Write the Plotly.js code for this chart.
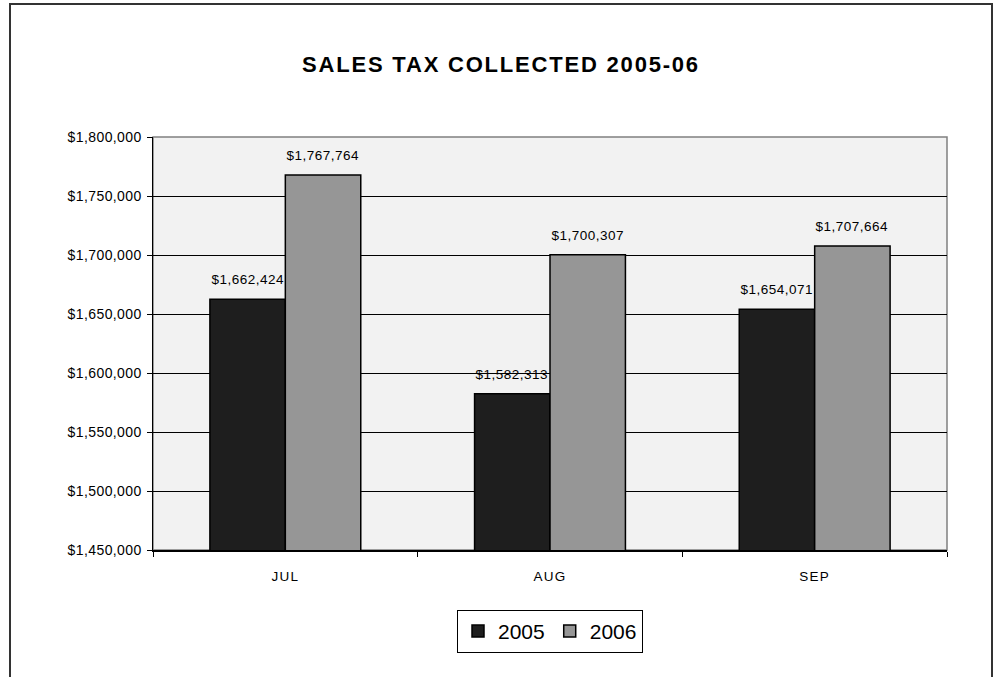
<!DOCTYPE html>
<html>
<head>
<meta charset="utf-8">
<script src="https://cdn.plot.ly/plotly-3.0.1.min.js"></script>
<style>
  html, body { margin: 0; padding: 0; background: #ffffff; overflow: hidden; }
  #wrap { position: relative; width: 995px; height: 677px; }
  #frame { position: absolute; left: 9px; top: 3px; width: 984px; height: 700px; border: 2px solid #333; box-sizing: border-box; pointer-events: none; }
  #chart { position: absolute; left: 0; top: 0; width: 995px; height: 677px; }
  #chart .gtitle { letter-spacing: 1.8px; }
  #chart .xtick text { letter-spacing: 1.2px; }
  #chart .ytick text { letter-spacing: 0.4px; }
  #chart .annotation-text { letter-spacing: 0.5px; }
</style>
</head>
<body>
<div id="wrap">
  <div id="chart"></div>
  <div id="frame"></div>
</div>
<script>
const categories = ["JUL", "AUG", "SEP"];
const sales2005 = [1662424, 1582313, 1654071];
const sales2006 = [1767764, 1700307, 1707664];
const seriesNames = ["2005", "2006"];
const yTickVals = [1450000, 1500000, 1550000, 1600000, 1650000, 1700000, 1750000, 1800000];
const yTickText = ["$1,450,000", "$1,500,000", "$1,550,000", "$1,600,000", "$1,650,000", "$1,700,000", "$1,750,000", "$1,800,000"];

const fmt = v => "$" + v.toLocaleString("en-US");
const FONT = "Liberation Sans, Arial, sans-serif";

const W = 995, H = 677;
const M = { l: 153, r: 48, t: 137, b: 127 };
const bargap = 0.43;
const catWidthPx = (W - M.l - M.r) / categories.length;
const barWidthPx = catWidthPx * (1 - bargap) / 2;

const traces = [
  {
    type: "bar", name: seriesNames[0], x: categories, y: sales2005,
    marker: { color: "#1e1e1e", line: { color: "#000", width: 1.5 } },
    hoverinfo: "skip"
  },
  {
    type: "bar", name: seriesNames[1], x: categories, y: sales2006,
    marker: { color: "#969696", line: { color: "#000", width: 1.5 } },
    hoverinfo: "skip"
  }
];

const annotations = [];
[sales2005, sales2006].forEach((series, si) => {
  series.forEach((v, i) => {
    annotations.push({
      x: categories[i], y: v, xref: "x", yref: "y",
      xshift: (si === 0 ? -1 : 1) * barWidthPx / 2,
      yshift: 10, yanchor: "bottom", xanchor: "center",
      text: fmt(v), showarrow: false,
      font: { family: FONT, size: 13.5, color: "#000" }
    });
  });
});

const layout = {
  width: W, height: H,
  margin: M,
  paper_bgcolor: "rgba(0,0,0,0)",
  plot_bgcolor: "#f2f2f2",
  font: { family: FONT, color: "#000" },
  title: {
    text: "<b>SALES TAX COLLECTED 2005-06</b>",
    font: { size: 22, family: FONT, color: "#000" },
    x: 501 / W, xref: "container", xanchor: "center",
    y: 1 - 64 / H, yref: "container", yanchor: "middle"
  },
  barmode: "group",
  bargap: bargap,
  bargroupgap: 0,
  xaxis: {
    type: "category",
    showline: true, linecolor: "#000", linewidth: 1.5,
    ticks: "outside", ticklen: 5, tickcolor: "#000", tickson: "boundaries",
    showgrid: false,
    tickfont: { size: 13.5 },
    ticklabelstandoff: 13
  },
  yaxis: {
    range: [1450000, 1800000],
    tickvals: yTickVals, ticktext: yTickText,
    showline: true, linecolor: "#000", linewidth: 1.5,
    ticks: "outside", ticklen: 5, tickcolor: "#000",
    showgrid: true, gridcolor: "#000", gridwidth: 1,
    zeroline: false,
    tickfont: { size: 14 },
    ticklabelstandoff: 2
  },
  shapes: [
    { type: "rect", xref: "paper", yref: "paper", x0: 0, x1: 1, y0: 0, y1: 1,
      line: { color: "#808080", width: 1.5 }, layer: "below" }
  ],
  annotations: annotations,
  showlegend: true,
  legend: {
    orientation: "h",
    x: 0.5, xanchor: "center",
    y: -0.145, yanchor: "top",
    bordercolor: "#000", borderwidth: 1,
    bgcolor: "#fff",
    font: { size: 21 },
    itemwidth: 30,
    traceorder: "normal"
  },
  hovermode: false
};

Plotly.newPlot("chart", traces, layout, { displayModeBar: false, staticPlot: true });
</script>
</body>
</html>
